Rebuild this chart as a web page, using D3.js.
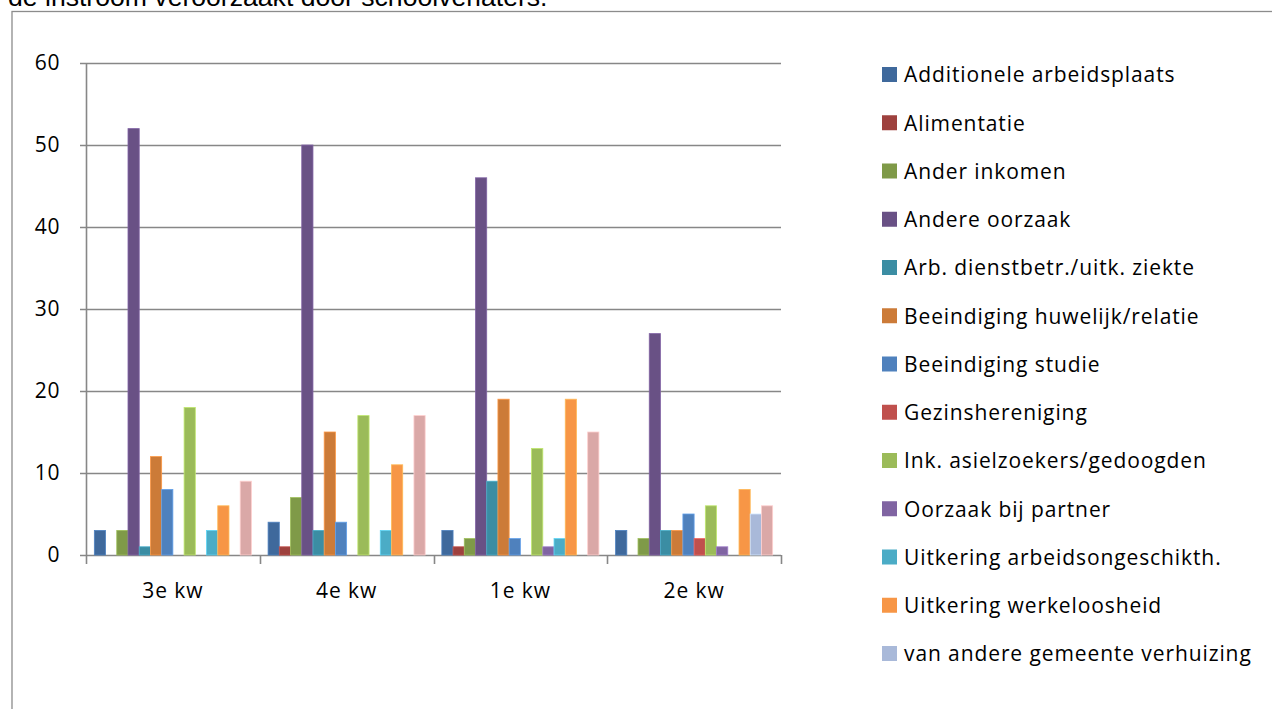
<!DOCTYPE html>
<html>
<head>
<meta charset="utf-8">
<script src="https://cdn.jsdelivr.net/npm/d3@7"></script>
<style>
  body { margin: 0; background: #fff; overflow: hidden; }
  svg { display: block; }
  text { fill: #000; }
</style>
</head>
<body>
<svg id="chart" width="1272" height="709"></svg>
<script>
// quarters on the x axis
const quarters = ['3e kw', '4e kw', '1e kw', '2e kw']

// series names (the last one falls outside the legend box)
const seriesNames = [
  'Additionele arbeidsplaats',
  'Alimentatie',
  'Ander inkomen',
  'Andere oorzaak',
  'Arb. dienstbetr./uitk. ziekte',
  'Beeindiging huwelijk/relatie',
  'Beeindiging studie',
  'Gezinshereniging',
  'Ink. asielzoekers/gedoogden',
  'Oorzaak bij partner',
  'Uitkering arbeidsongeschikth.',
  'Uitkering werkeloosheid',
  'van andere gemeente verhuizing',
  'vrijlating'
]

// one array per quarter, in series order
const q3 = [3, 0, 3, 52, 1, 12, 8, 0, 18, 0, 3, 6, 0, 9]
const q4 = [4, 1, 7, 50, 3, 15, 4, 0, 17, 0, 3, 11, 0, 17]
const q1 = [3, 1, 2, 46, 9, 19, 2, 0, 13, 1, 2, 19, 0, 15]
const q2 = [3, 0, 2, 27, 3, 3, 5, 2, 6, 1, 0, 8, 5, 6]

const yTicks = [0, 10, 20, 30, 40, 50, 60]

const colors = ['#3F699C', '#9E413E', '#7F9A48', '#695185', '#3B8DA3', '#CC7B38',
                '#4F81BD', '#C0504D', '#9BBB59', '#8064A2', '#4BACC6', '#F79646',
                '#A9B9D9', '#DAA8A7']

const values = [q3, q4, q1, q2]

var svg = d3.select('#chart')
var font = '"Open Sans", sans-serif'

function labelStyle(sel) {
  sel.style('font-family', font)
     .style('font-size', '21px')
     .style('letter-spacing', '0.9px')
     .attr('fill', '#000')
}

// title line above the chart box, clipped by the page top
svg.append('text')
    .attr('x', 8)
    .attr('y', 6)
    .style('font-family', '"Liberation Sans", Arial, sans-serif')
    .style('font-size', '26.6px')
    .text('de instroom veroorzaakt door schoolverlaters.')

// chart box
svg.append('rect')
    .attr('x', 12).attr('y', 11.5)
    .attr('width', 1300).attr('height', 800)
    .attr('fill', '#fff')
    .attr('stroke', '#8c8c8c')
    .attr('stroke-width', 1.3)

var plot = {left: 86, right: 781, top: 63, bottom: 555}

var x0 = d3.scaleBand()
    .domain(quarters)
    .range([plot.left, plot.right])

var bw = x0.bandwidth()
var x1 = d3.scaleBand()
    .domain(d3.range(seriesNames.length))
    .range([bw * 0.048, bw * 0.952])

var y = d3.scaleLinear()
    .domain([0, 60])
    .range([plot.bottom, plot.top])

// gridlines
svg.append('g')
    .selectAll('line')
    .data(yTicks)
    .enter()
    .append('line')
    .attr('x1', plot.left - 6).attr('x2', plot.right)
    .attr('y1', d => Math.round(y(d)) + 0.5).attr('y2', d => Math.round(y(d)) + 0.5)
    .attr('stroke', '#878787')
    .attr('stroke-width', 1.6)

// bars, skipping zero values
var groups = svg.append('g')
    .selectAll('g')
    .data(values)
    .enter()
    .append('g')
    .attr('transform', (d, i) => `translate(${x0(quarters[i])},0)`)

groups.each(function (vals) {
  d3.select(this).selectAll('rect')
      .data(vals.map((v, i) => ({v: v, i: i})).filter(d => d.v > 0))
      .enter()
      .append('rect')
      .attr('x', d => x1(d.i))
      .attr('width', x1.bandwidth())
      .attr('y', d => y(d.v))
      .attr('height', d => y(0) - y(d.v))
      .attr('fill', d => colors[d.i])
      .attr('stroke', d => d3.color(colors[d.i]).brighter(0.6))
      .attr('stroke-width', 0.8)
})

// y axis
var yAxis = svg.append('g')
    .attr('transform', `translate(${plot.left + 0.5},0)`)
    .call(d3.axisLeft(y).tickValues(yTicks).tickSize(0).tickPadding(26))

yAxis.select('.domain')
    .attr('stroke', '#878787')
    .attr('stroke-width', 1.6)
    .attr('d', `M0,${plot.top}V${plot.bottom + 9}`)
yAxis.selectAll('text').call(labelStyle)

// x axis
var xAxis = svg.append('g')
    .attr('transform', `translate(0,${Math.round(y(0)) + 0.5})`)
    .call(d3.axisBottom(x0).tickSize(0).tickPadding(28))

xAxis.select('.domain').remove()
xAxis.selectAll('text').call(labelStyle)

svg.append('g')
    .selectAll('line')
    .data(quarters.map(q => x0(q) + bw))
    .enter()
    .append('line')
    .attr('x1', d => Math.round(d) + 0.5).attr('x2', d => Math.round(d) + 0.5)
    .attr('y1', plot.bottom).attr('y2', plot.bottom + 9)
    .attr('stroke', '#878787')
    .attr('stroke-width', 1.6)

// legend (box only fits the first 13 entries)
var legend = svg.append('g')
    .selectAll('g')
    .data(seriesNames.slice(0, 13))
    .enter()
    .append('g')
    .attr('transform', (d, i) => `translate(882,${75 + i * 48.25})`)

legend.append('rect')
    .attr('x', 0).attr('y', -8)
    .attr('width', 15).attr('height', 15)
    .attr('fill', (d, i) => colors[i])

legend.append('text')
    .attr('x', 22)
    .attr('y', 0)
    .attr('dy', '0.35em')
    .call(labelStyle)
    .text(d => d)
</script>
</body>
</html>
